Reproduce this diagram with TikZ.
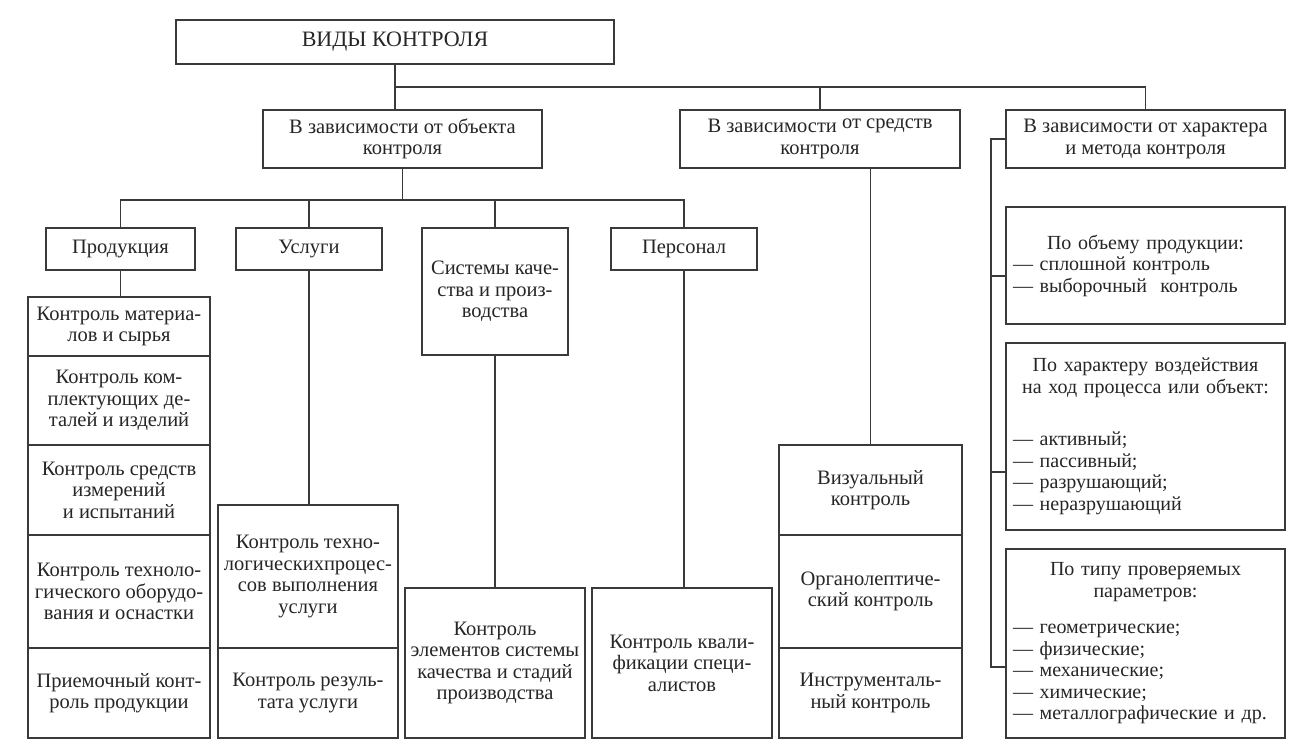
\documentclass[tikz,border=0pt]{standalone}
\usepackage{fontspec}
\setmainfont{Liberation Serif}
\definecolor{linec}{HTML}{3A3A3A}
\definecolor{textc}{HTML}{262626}
\begin{document}
\begin{tikzpicture}[x=1pt,y=-1pt,
  box/.style={draw=linec, line width=1.1pt, inner sep=0pt, align=center, text=textc,
              font=\fontsize{20.5}{21.5}\selectfont},
  wh/.style 2 args={minimum width=#1pt, minimum height=#2pt},
  rbox/.style={box, align=left, text width=265pt, inner xsep=7pt,
               font=\fontsize{20}{21.5}\selectfont},
  link/.style={draw=linec, line width=1.1pt}]
\useasboundingbox[fill=white] (0,0) rectangle (1298,742);

% level 0
\node[box, wh={438}{44}, font=\fontsize{22}{24}\selectfont] (top) at (395,42) {ВИДЫ КОНТРОЛЯ};
% level 1
\node[box, wh={279}{58}] (b1) at (402.5,139) {В зависимости от объекта\\контроля};
\node[box, wh={280}{58}] (b2) at (820,139) {В зависимости \raisebox{4pt}{от средств}\\контроля};
\node[box, wh={279}{58}] (b3) at (1145.5,139) {В зависимости от характера\\и метода контроля};
% level 2
\node[box, wh={149}{42}] (prod) at (120.5,249) {Продукция};
\node[box, wh={146}{42}] (usl) at (309,249) {Услуги};
\node[box, wh={146}{127}] (sys) at (495,291.5) {Системы каче-\\ства и произ-\\водства};
\node[box, wh={146}{42}] (pers) at (684,249) {Персонал};
% product stack
\node[box, wh={182}{59}] (p1) at (119,326.5) {Контроль материа-\\лов и сырья};
\node[box, wh={182}{89}] (p2) at (119,400.5) {Контроль ком-\\плектующих де-\\талей и изделий};
\node[box, wh={182}{90}] (p3) at (119,490) {Контроль средств\\измерений\\и испытаний};
\node[box, wh={182}{113}] (p4) at (119,591.5) {Контроль техноло-\\гического оборудо-\\вания и оснастки};
\node[box, wh={182}{90}] (p5) at (119,693) {Приемочный конт-\\роль продукции};
% services stack
\node[box, wh={180}{143}] (u1) at (308,576.5) {Контроль техно-\\логическихпроцес-\\сов выполнения\\услуги};
\node[box, wh={180}{90}] (u2) at (308,693) {Контроль резуль-\\тата услуги};
% systems, personnel
\node[box, wh={180}{150}] (s2) at (495,663) {Контроль\\элементов системы\\качества и стадий\\производства};
\node[box, wh={180}{150}] (pe2) at (682,663) {Контроль квали-\\фикации специ-\\алистов};
% means stack
\node[box, wh={183}{90}] (v1) at (870.5,490) {Визуальный\\контроль};
\node[box, wh={183}{113}] (v2) at (870.5,591.5) {Органолептиче-\\ский контроль};
\node[box, wh={183}{90}] (v3) at (870.5,693) {Инструменталь-\\ный контроль};
% right column
\node[rbox, minimum height=117pt] (r1) at (1145.5,265.5)
  {{\centering По объему продукции:\par}
   — сплошной контроль\\
   — выборочный\ \ контроль};
\node[rbox, minimum height=187pt] (r2) at (1145.5,436.5)
  {{\centering По характеру воздействия\\на ход процесса или объект:\par}
   \vspace{31pt}
   — активный;\\
   — пассивный;\\
   — разрушающий;\\
   — неразрушающий};
\node[rbox, minimum height=189pt] (r3) at (1145.5,643.5)
  {{\centering По типу проверяемых\\параметров:\par}
   \vspace{15pt}
   — геометрические;\\
   — физические;\\
   — механические;\\
   — химические;\\
   — металлографические и др.};

% connectors
\coordinate (j0) at (395,87);
\coordinate (j1) at (402.5,200);
\coordinate (rv) at (991,139);
\coordinate (t1) at ([yshift=-10.5pt]r1.west);
\coordinate (t2) at ([yshift=-35.5pt]r2.west);
\coordinate (t3) at ([yshift=-23.5pt]r3.west);
\draw[link] (top.south) -- (top.south |- b1.north);
\draw[link] (j0) -| (b2.north);
\draw[link] (j0) -| (b3.north);
\draw[link] (b1.south) -- (j1);
\draw[link] (prod.north) |- (j1) -| (pers.north);
\draw[link] (j1) -| (usl.north);
\draw[link] (j1) -| (sys.north);
\draw[link] (prod.south) -- (prod.south |- p1.north);
\draw[link] (usl.south) -- (usl.south |- u1.north);
\draw[link] (sys.south) -- (sys.south |- s2.north);
\draw[link] (pers.south) -- (pers.south |- pe2.north);
\draw[link] (b2.south -| v1.north) -- (v1.north);
\draw[link] (b3.west) -- (rv) -- (rv |- t3) -- (t3);
\draw[link] (rv |- t1) -- (t1);
\draw[link] (rv |- t2) -- (t2);
\end{tikzpicture}
\end{document}
